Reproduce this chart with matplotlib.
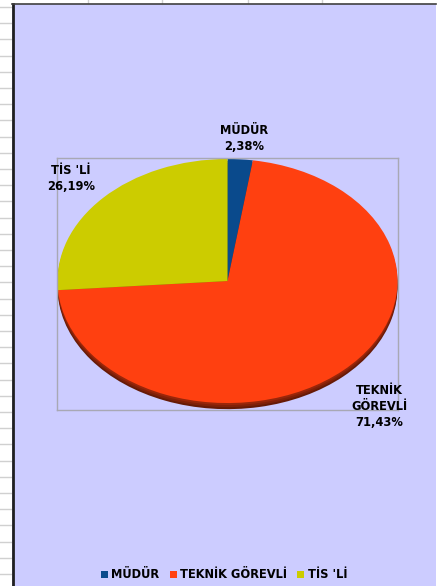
import matplotlib.pyplot as plt
from matplotlib.patches import Rectangle, Patch
from matplotlib.lines import Line2D
import matplotlib.colors as mcolors

# data
categories = ["MÜDÜR", "TEKNİK GÖREVLİ", "TİS 'Lİ"]
label_names = ["MÜDÜR", "TEKNİK\nGÖREVLİ", "TİS 'Lİ"]
counts = [1, 30, 11]
colors = ["#0a4a8c", "#ff4010", "#cccc00"]

W, H = 441, 586
fig = plt.figure(figsize=(W / 100, H / 100), dpi=100, facecolor="white")


def fx(px):
    return px / W


def fy(py):
    return 1 - py / H


# spreadsheet grid behind the chart
for x in [88, 162, 248, 322]:
    fig.add_artist(Line2D([fx(x), fx(x)], [fy(0), fy(4)], color="#d0d0d0", lw=1))
y = 7
while y < H:
    fig.add_artist(Line2D([0, fx(12)], [fy(y), fy(y)], color="#d0d0d0", lw=1))
    y += 16.2

# chart area
fig.add_artist(Rectangle((fx(12), 0), fx(436) - fx(12), fy(4), facecolor="#ccccff",
                         edgecolor="none", zorder=1))
fig.add_artist(Line2D([fx(12.5), fx(12.5)], [0, fy(4)], color="#202020", lw=2, zorder=2))
fig.add_artist(Line2D([fx(12), fx(436)], [fy(4), fy(4)], color="#404040", lw=1.2, zorder=2))

# plot area box (57,158)-(398,410)
ax = fig.add_axes([fx(57), fy(410), fx(398) - fx(57), fy(158) - fy(410)])
ax.set_facecolor("none")
ax.set_zorder(3)

# 3d rim: a few darker pies stacked below the top face
depth = 0.05
shades = [0.40, 0.50, 0.60]
for i, s in enumerate(shades):
    off = -depth + i * depth / len(shades)
    dark = [tuple(c * s for c in mcolors.to_rgb(col)) for col in colors]
    ax.pie(counts, colors=dark, startangle=90, counterclock=False, center=(0, off),
           radius=1, frame=True, wedgeprops=dict(linewidth=0))
ax.pie(counts, colors=colors, startangle=90, counterclock=False, center=(0, 0),
       radius=1, frame=True, wedgeprops=dict(linewidth=0))

ax.set_aspect("auto")
ax.set_xlim(-1.003, 1.003)
ax.set_ylim(-1.057, 1.008)
ax.set_xticks([])
ax.set_yticks([])
for sp in ax.spines.values():
    sp.set_color("#a8a8b4")
    sp.set_linewidth(1)

# data labels
total = sum(counts)
pcts = [c / total * 100 for c in counts]
label_pos = [(244, 124), (379, 384), (71, 164)]
for name, p, (lx, ly) in zip(label_names, pcts, label_pos):
    txt = name + "\n" + f"{p:.2f}%".replace(".", ",")
    fig.text(fx(lx), fy(ly), txt, ha="center", va="top", fontsize=8.3,
             fontweight="bold", family="DejaVu Sans", linespacing=1.3, zorder=5)

# legend
handles = [Patch(facecolor=c, edgecolor="none") for c in colors]
fig.legend(handles, categories, loc="center", bbox_to_anchor=(fx(224), fy(575)),
           ncol=3, frameon=False, handlelength=0.6, handleheight=0.6,
           handletextpad=0.3, columnspacing=0.9,
           prop=dict(family="DejaVu Sans", weight="bold", size=8.3))

fig.savefig("out.png", dpi=100, facecolor="white")
